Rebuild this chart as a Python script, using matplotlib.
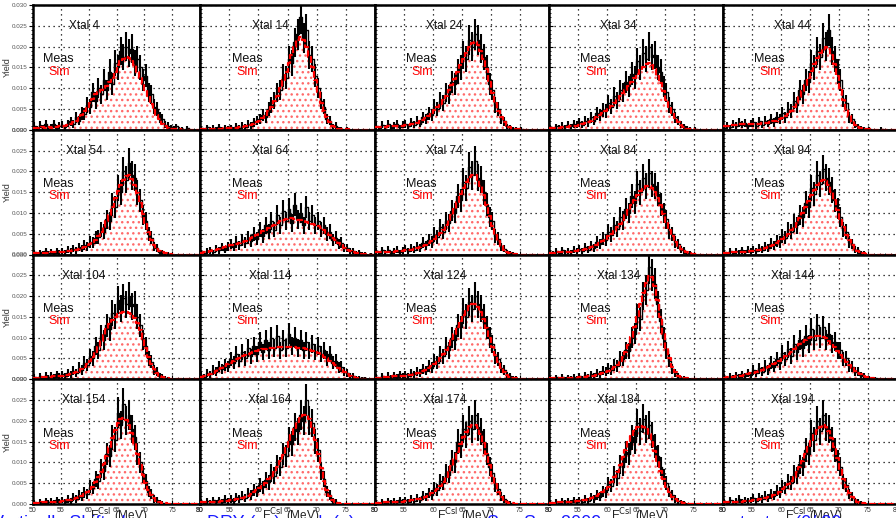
import numpy as np
import matplotlib.pyplot as plt
from matplotlib.ticker import MultipleLocator

plt.rcParams['font.family'] = ['Liberation Sans', 'DejaVu Sans']
plt.rcParams['hatch.linewidth'] = 1.0

# E_CsI bins: 50-80 MeV in 0.5 MeV steps, yields in units of 1e-4
bin_edges = np.arange(50.0, 80.01, 0.5)
crystals = [4, 14, 24, 34, 44, 54, 64, 74, 84, 94,
            104, 114, 124, 134, 144, 154, 164, 174, 184, 194]
Z10 = [0] * 10

sim_4 = [5,5,4,6,5,6,5,7,6,8, 8,10,12,14,18,22,28,35,45,55, 65,75,85,90,95,100,105,115,125,140,
         155,165,170,175,172,165,155,140,125,110, 95,80,62,48,35,25,15,9,5,3, 2,1,1,0,0,0,0,0,0,0]
meas_4 = [10,4,12,6,15,3,8,14,5,10, 12,6,15,20,14,30,22,40,38,60, 55,90,70,100,85,120,95,140,110,160,
          150,190,175,200,185,195,160,170,150,120, 130,90,85,55,50,30,25,12,10,5, 4,8,2,3,0,4,0,0,0,0]
sim_14 = [2,2,2,3,3,3,3,3,4,4, 4,5,5,6,7,8,10,12,15,18, 22,28,35,45,55,68,82,100,120,140,
          160,180,200,215,222,215,200,175,150,120, 90,65,45,30,18,10,6,3,2,1, 1,0,0,0,0,0,0,0,0,0]
meas_14 = [4,0,6,2,5,3,7,2,5,4, 6,3,9,5,10,7,14,10,18,22, 25,35,30,50,60,70,90,95,130,125,
           170,160,210,230,270,220,240,180,170,130, 100,70,55,25,22,8,10,3,2,0, 2,0,0,0,0,0,0,0,0,0]
sim_24 = [6,6,7,7,8,8,9,9,10,10, 11,12,13,15,17,20,24,28,33,40, 48,55,62,72,82,95,108,122,138,155,
          170,185,198,208,212,205,190,170,145,115, 88,65,45,30,18,10,6,3,2,1, 1,0,0,0,0,0,0,0,0,0]
meas_24 = [10,4,12,6,14,5,10,15,6,12, 14,8,18,12,22,15,30,25,40,35, 55,50,70,65,90,85,115,110,140,150,
           180,170,215,200,230,215,195,175,150,110, 95,60,50,25,20,8,6,3,2,0, 2,0,0,0,0,0,0,0,0,0]
sim_34 = [4,4,5,5,6,6,7,8,9,10, 12,14,16,19,22,26,30,35,40,46, 52,58,65,72,80,88,96,105,115,125,
          135,145,152,158,160,155,145,130,112,92, 72,55,40,28,18,11,6,3,2,1, 0,0,0,0,0,0,0,0,0,0]
meas_34 = [6,3,8,5,10,6,12,8,14,12, 18,12,22,18,30,22,40,35,48,45, 65,55,80,70,95,90,115,105,135,125,
           165,150,185,170,200,175,180,150,140,105, 90,60,50,30,22,12,8,4,2,0, 2,0,0,0,0,0,0,0,0,0]
sim_44 = [8,10,12,12,12,13,13,14,14,14, 15,15,15,16,16,17,18,20,22,25, 28,32,38,45,55,65,78,92,108,125,
          142,158,172,185,195,200,195,180,158,130, 100,72,50,32,20,12,7,4,2,1, 1,0,0,0,0,0,0,0,0,0]
meas_44 = [4,10,6,14,10,18,12,16,8,15, 18,10,20,12,22,15,25,18,30,25, 40,30,50,45,70,60,95,85,120,115,
           160,150,190,175,220,200,240,190,170,140, 120,75,65,30,25,12,8,4,3,0, 2,0,0,0,3,0,0,0,0,0]

sim_54 = [3,3,3,4,4,4,5,5,5,6, 6,7,8,9,10,12,14,16,19,22, 26,30,36,44,54,66,80,96,115,135,
          152,168,180,188,190,182,168,148,124,98, 74,53,36,23,14,8,5,3,2,1] + Z10
meas_54 = [5,2,6,3,8,4,7,3,8,6, 9,5,12,8,14,10,18,14,24,20, 30,28,40,42,60,55,85,80,120,115,
           160,150,200,180,220,190,185,150,130,95, 80,50,40,20,15,6,5,2,2,0] + Z10
sim_64 = [4,5,6,8,10,12,14,16,18,20, 22,24,26,28,30,33,36,40,44,48, 52,56,60,64,68,72,76,80,84,86,
          88,88,86,84,82,80,78,76,74,72, 68,64,58,52,46,40,34,28,22,16, 12,8,6,4,3,2,1,1,0,0]
meas_64 = [6,3,8,10,6,14,10,18,12,20, 25,18,30,22,35,28,40,32,50,38, 60,45,70,55,80,60,95,70,105,80,
           110,75,120,85,100,70,115,80,95,70, 80,60,70,50,55,35,40,25,28,15, 15,8,8,3,5,2,2,0,1,0]
sim_74 = [5,5,5,6,6,7,7,8,8,9, 10,11,12,14,16,18,21,24,28,33, 38,44,52,60,70,82,95,110,127,145,
          160,175,186,192,190,180,164,142,118,92, 68,48,32,20,12,7,4,2,1,0] + Z10
meas_74 = [8,3,10,5,12,4,9,12,6,10, 14,8,16,12,20,15,28,22,35,30, 48,42,65,55,80,75,105,100,140,130,
           175,160,210,190,225,185,180,150,120,90, 80,45,38,18,14,5,4,2,0,0] + Z10
sim_84 = [4,4,5,5,6,6,7,7,8,9, 10,11,13,15,17,20,24,28,33,38, 44,50,57,65,74,84,95,106,118,130,
          142,152,160,164,165,160,150,136,118,98, 78,60,44,31,21,13,8,5,3,2, 1,0,0,0,0,0,0,0,0,0]
meas_84 = [6,3,8,4,10,5,9,6,12,8, 14,9,18,12,22,16,30,25,38,35, 55,48,70,62,90,82,110,100,140,125,
           170,150,185,165,195,170,165,145,120,100, 85,55,50,30,25,12,10,4,3,0] + Z10
sim_94 = [4,4,5,5,5,6,6,7,7,8, 9,10,11,13,15,17,20,24,28,33, 38,44,50,58,66,76,88,100,114,128,
          142,156,168,176,180,176,166,150,130,108, 86,66,48,34,23,14,8,5,3,1] + Z10
meas_94 = [6,2,8,4,9,5,10,6,12,8, 12,8,16,12,20,15,26,22,32,30, 45,40,60,55,75,70,95,90,125,115,
           160,145,190,170,205,185,175,155,130,110, 90,60,55,30,25,12,10,4,3,0] + Z10

sim_104 = [4,4,5,5,5,6,6,7,7,8, 9,10,11,13,15,17,20,24,30,36, 44,54,65,78,92,106,120,132,142,150,
           156,160,162,162,160,156,148,136,118,96, 74,54,37,24,15,9,5,3,2,1] + Z10
meas_104 = [6,2,8,4,9,5,10,6,12,8, 12,8,16,12,20,15,28,22,40,35, 55,50,80,70,105,95,130,120,160,150,
            190,170,195,180,200,175,180,150,130,95, 80,50,42,22,18,8,6,3,2,0] + Z10
sim_114 = [6,8,10,13,16,20,24,28,32,36, 40,44,48,52,55,58,61,64,66,68, 70,72,73,74,75,76,77,78,78,78,
           78,78,77,76,75,74,72,70,68,65, 62,58,54,50,45,40,34,28,22,17, 12,8,5,3,2,1,1,0,0,0]
meas_114 = [10,6,15,12,22,18,30,25,35,30, 48,40,60,45,65,50,75,55,80,60, 90,65,95,70,100,75,105,70,95,75,
            110,80,100,75,95,70,90,70,85,65, 80,60,70,50,60,40,45,28,30,18, 15,8,8,4,3,2,2,0,1,0]
sim_124 = [4,4,5,5,6,6,7,7,8,8, 9,10,11,12,14,16,19,22,26,31, 37,44,52,61,71,83,96,110,125,140,
           154,166,175,180,180,174,162,145,124,100, 78,58,41,28,18,11,6,4,2,1] + Z10
meas_124 = [6,2,8,4,9,5,10,6,12,8, 12,8,16,12,18,15,25,20,32,28, 45,40,60,55,80,70,100,95,130,125,
            165,150,185,170,200,180,170,150,125,100, 85,55,48,28,22,10,8,4,3,0] + Z10
sim_134 = [2,2,2,3,3,3,3,4,4,4, 5,5,6,7,8,9,10,12,14,17, 20,24,29,35,43,53,66,82,102,126,
           152,180,208,232,248,245,225,190,150,110, 76,50,30,17,9,5,3,2,1,0] + Z10
meas_134 = [4,0,5,2,6,2,5,3,6,4, 8,4,10,6,12,8,15,12,20,18, 26,22,35,32,50,48,70,68,100,110,
            150,145,200,215,270,250,230,180,140,100, 70,45,25,15,8,4,3,1,1,0] + Z10
sim_144 = [4,5,5,6,7,8,9,10,12,14, 16,18,20,23,26,29,32,36,40,45, 50,55,60,66,72,78,84,90,95,99,
           102,104,105,104,102,98,92,85,77,68, 59,50,42,34,27,21,16,12,8,5, 3,2,1,1,0,0,0,0,0,0]
meas_144 = [6,3,8,5,10,6,12,8,15,10, 22,14,26,18,32,22,40,30,48,38, 62,48,72,56,85,65,95,75,105,85,
            120,95,130,100,125,95,110,85,90,70, 70,48,50,32,30,18,18,10,8,4, 4,2,2,0,1,0,0,0,0,0]

sim_154 = [3,3,3,4,4,4,5,5,6,6, 7,8,9,10,12,14,16,19,23,28, 34,42,52,64,78,95,115,136,158,178,
           195,205,208,203,190,170,146,120,94,70, 50,34,22,14,8,5,3,2,1,0] + Z10
meas_154 = [5,2,6,3,7,4,8,5,9,6, 10,6,12,8,16,12,22,18,28,25, 42,38,60,55,85,80,120,115,160,155,
            220,190,240,200,215,180,160,120,100,70, 55,30,25,12,9,4,3,1,1,0] + Z10
sim_164 = [4,4,5,5,5,6,6,7,7,8, 9,10,11,13,15,17,20,24,28,33, 38,44,51,59,68,78,90,103,118,134,
           150,166,182,196,207,214,214,205,185,155, 120,86,56,34,19,10,5,3,1,0] + Z10
meas_164 = [6,3,8,4,10,5,9,6,12,8, 12,8,16,12,20,15,26,22,34,30, 45,40,58,52,75,68,95,90,120,115,
            155,145,185,175,215,200,250,200,195,150, 130,80,60,30,22,8,6,2,1,0] + Z10
sim_174 = [3,3,4,4,4,5,5,5,6,6, 7,8,9,10,11,13,15,18,22,26, 31,37,44,53,64,77,92,108,126,144,
           160,174,184,190,190,183,168,146,120,93, 68,47,30,18,10,6,3,2,1,0] + Z10
meas_174 = [5,2,6,3,7,4,8,5,9,6, 10,6,12,8,15,10,20,16,26,22, 38,34,55,50,75,70,105,100,150,140,
            180,165,200,180,215,185,175,150,120,90, 75,45,35,18,12,5,3,1,1,0] + Z10
sim_184 = [3,3,4,4,4,5,5,6,6,7, 8,9,10,12,14,16,19,23,28,34, 42,52,64,78,94,112,130,148,164,176,
           184,188,186,180,168,150,128,104,80,59, 42,28,18,11,7,4,2,1,1,0] + Z10
meas_184 = [5,2,6,3,7,4,8,5,9,6, 10,6,12,8,16,12,22,18,30,28, 48,44,70,62,95,90,125,120,160,150,
            195,175,205,180,190,165,140,115,90,65, 50,30,22,12,8,4,3,1,1,0] + Z10
sim_194 = [4,4,5,5,5,6,6,7,7,8, 9,10,11,12,14,16,18,21,25,30, 35,41,48,56,66,77,90,104,120,136,
           152,166,178,186,190,186,175,158,136,110, 84,60,40,26,16,9,5,3,2,1] + Z10
meas_194 = [6,2,10,4,8,12,6,10,8,10, 14,8,16,12,20,15,25,20,32,28, 42,38,55,50,72,68,95,90,130,120,
            170,155,200,175,215,185,180,155,130,105, 90,55,45,25,18,8,6,3,2,0] + Z10

sims = [sim_4, sim_14, sim_24, sim_34, sim_44, sim_54, sim_64, sim_74, sim_84, sim_94,
        sim_104, sim_114, sim_124, sim_134, sim_144, sim_154, sim_164, sim_174, sim_184, sim_194]
meass = [meas_4, meas_14, meas_24, meas_34, meas_44, meas_54, meas_64, meas_74, meas_84, meas_94,
         meas_104, meas_114, meas_124, meas_134, meas_144, meas_154, meas_164, meas_174, meas_184, meas_194]

W, H = 896, 518
fig = plt.figure(figsize=(W / 100, H / 100), dpi=100)

col_l = [33, 200, 375, 549, 723]
col_r = [200, 375, 549, 723, 897]
row_t = [5, 129.75, 254.5, 379.25]
row_h = 124.75

centers = 0.5 * (bin_edges[:-1] + bin_edges[1:])

# cut-off slide text along the bottom edge (drawn first, under the plots)
blue_bits = [(-8, 'Vertically Shifted'), (207, 'DRY (ns)'), (318, '|  (a)'),
             (487, 'Sep Sep 2009'), (740, 'to  tan (0/ 20')]
for px, s in blue_bits:
    fig.text(px / W, 1 - 514.5 / H, s, fontsize=13, color='#1a1aff',
             ha='left', va='top', zorder=0)

for k, xt in enumerate(crystals):
    r, c = divmod(k, 5)
    left = col_l[c] / W
    bottom = 1 - (row_t[r] + row_h) / H
    ax = fig.add_axes([left, bottom, (col_r[c] - col_l[c]) / W, row_h / H])

    sim = np.array(sims[k]) * 1e-4
    meas = np.array(meass[k]) * 1e-4
    err = np.sqrt(meas * 6e-4)

    sim_step = np.append(sim, sim[-1])
    ax.fill_between(bin_edges, sim_step, step='post', facecolor='white',
                    edgecolor='#ff6a6a', hatch='...', linewidth=0, zorder=1)
    ax.errorbar(centers, meas, yerr=err, fmt='none', ecolor='black',
                elinewidth=1.5, zorder=3)
    ax.step(bin_edges, np.append(meas, meas[-1]), where='post', color='black',
            lw=1.0, zorder=3)
    ax.step(bin_edges, sim_step, where='post', color='red', lw=1.6,
            ls=(0, (3, 1)), zorder=4)

    ax.set_xlim(50, 80)
    ax.set_ylim(0, 0.030)
    ax.xaxis.set_major_locator(MultipleLocator(5))
    ax.yaxis.set_major_locator(MultipleLocator(0.005))
    ax.yaxis.set_minor_locator(MultipleLocator(0.001))
    ax.xaxis.set_minor_locator(MultipleLocator(1))
    ax.grid(True, which='major', color='black', lw=0.9, ls=(0, (1, 3)))
    ax.set_axisbelow(True)
    for s in ax.spines.values():
        s.set_linewidth(1.8)

    ax.tick_params(axis='x', which='both', direction='in', top=False,
                   labelsize=5, pad=2, colors='black', labelcolor='#333333')
    ax.tick_params(axis='x', which='major', length=3)
    ax.tick_params(axis='x', which='minor', length=1.5)
    if r < 3:
        ax.tick_params(axis='x', labelbottom=False)
    if c == 0:
        ax.tick_params(axis='y', which='both', direction='out', labelsize=4.5,
                       labelcolor='#555555', pad=1)
        ax.tick_params(axis='y', which='major', length=3)
        ax.tick_params(axis='y', which='minor', length=1.5)
        ax.yaxis.set_major_formatter(plt.FormatStrFormatter('%.3f'))
        ax.set_ylabel('Yield', fontsize=6.5, color='#333333')
        ax.yaxis.set_label_coords(-0.125, 0.5)
    else:
        ax.tick_params(axis='y', which='both', direction='in', labelleft=False)
        ax.tick_params(axis='y', which='major', length=3)
        ax.tick_params(axis='y', which='minor', length=1.5)
    if r == 3:
        ax.set_xlabel(r'E$^{\rm CsI}$ (MeV)', fontsize=8.5, color='#222222')
        ax.xaxis.set_label_coords(0.51 if c == 0 else 0.52, -0.02)
        ax.xaxis.label.set_va('top')

    tx = 0.305 if c == 0 else 0.40
    mx = 0.06 if c == 0 else 0.18
    sx = 0.09 if c == 0 else 0.21
    ax.text(tx, 0.83, f'Xtal {xt}', transform=ax.transAxes, fontsize=8.5,
            ha='center', va='center', color='#111111', zorder=5)
    ax.text(mx, 0.565, 'Meas', transform=ax.transAxes, fontsize=9,
            ha='left', va='center', color='#111111', zorder=5)
    ax.text(sx, 0.465, 'Sim', transform=ax.transAxes, fontsize=9,
            ha='left', va='center', color='red', zorder=5)

fig.savefig('out.png', dpi=100)
